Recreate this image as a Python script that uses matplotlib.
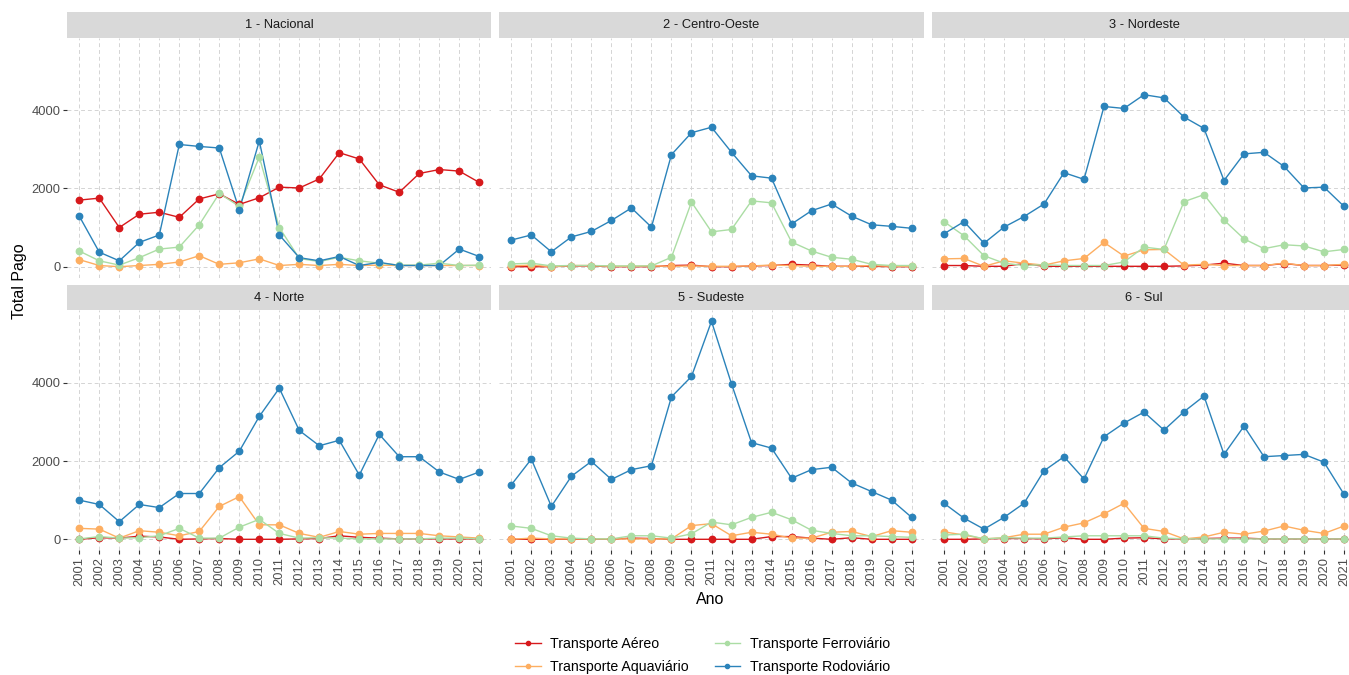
import matplotlib
matplotlib.use("Agg")

import matplotlib.pyplot as plt
from matplotlib.lines import Line2D

plt.rcParams['font.family'] = ['Liberation Sans', 'DejaVu Sans']

# Valores pagos por ano, modal e região
ANOS = [str(a) for a in range(2001, 2022)]
REGIOES = ['1 - Nacional', '2 - Centro-Oeste', '3 - Nordeste',
           '4 - Norte', '5 - Sudeste', '6 - Sul']
MODAIS = ['Transporte Aéreo', 'Transporte Aquaviário',
          'Transporte Ferroviário', 'Transporte Rodoviário']
CORES = ['#D7191C', '#FDAE61', '#ABDDA4', '#2B83BA']

# uma linha por região, na ordem de REGIOES
aereo = [
  [1700, 1750, 1000, 1340, 1390, 1260, 1730, 1860, 1590, 1760, 2030,
   2010, 2240, 2910, 2750, 2090, 1900, 2380, 2480, 2440, 2150],
  [0, 0, 0, 20, 20, 0, 0, 0, 30, 40, 0, 0, 20, 30, 60, 40, 10, 10, 10, 0, 0],
  [30, 30, 10, 10, 80, 10, 10, 10, 10, 10, 10, 10, 20, 40, 90, 30, 30, 80,
   30, 30, 40],
  [0, 40, 30, 80, 60, 0, 10, 20, 0, 0, 0, 10, 20, 90, 50, 30, 10, 10, 10,
   10, 10],
  [0, 0, 0, 0, 0, 0, 30, 20, 0, 0, 0, 0, 0, 70, 70, 30, 0, 40, 0, 0, 0],
  [0, 0, 10, 20, 20, 10, 40, 0, 0, 30, 40, 10, 10, 20, 30, 30, 10, 10, 10,
   10, 10],
]
aquaviario = [
  [180, 30, 0, 30, 60, 120, 280, 60, 100, 200, 30, 60, 30, 60, 30, 40, 30,
   30, 30, 30, 30],
  [20, 40, 0, 30, 30, 10, 10, 20, 10, 20, 10, 10, 20, 40, 30, 10, 10, 10,
   30, 10, 10],
  [200, 210, 10, 150, 90, 40, 150, 210, 620, 270, 430, 440, 40, 60, 30, 30,
   30, 90, 30, 30, 60],
  [280, 260, 30, 220, 180, 90, 200, 840, 1090, 370, 370, 150, 50, 200, 130,
   150, 150, 150, 90, 60, 30],
  [0, 30, 10, 10, 10, 10, 10, 10, 10, 350, 400, 90, 180, 130, 30, 30, 180,
   200, 70, 220, 180],
  [190, 110, 10, 40, 130, 130, 310, 420, 650, 920, 280, 200, 10, 60, 180,
   130, 210, 340, 230, 150, 340],
]
ferroviario = [
  [400, 150, 40, 230, 450, 500, 1070, 1870, 1540, 2800, 1000, 210, 130, 240,
   150, 90, 40, 40, 90, 30, 40],
  [70, 90, 20, 30, 30, 20, 20, 20, 240, 1650, 890, 950, 1680, 1630, 630, 400,
   240, 190, 60, 30, 30],
  [1150, 790, 280, 90, 30, 50, 30, 30, 30, 120, 500, 440, 1660, 1840, 1190,
   710, 460, 560, 530, 380, 440],
  [10, 70, 30, 40, 90, 280, 30, 30, 310, 510, 150, 30, 40, 30, 10, 10, 10,
   10, 30, 30, 10],
  [340, 280, 90, 30, 10, 10, 90, 90, 30, 140, 440, 370, 560, 690, 500, 230,
   150, 90, 90, 70, 50],
  [110, 130, 10, 40, 30, 30, 60, 90, 90, 90, 90, 30, 10, 10, 10, 10, 10, 10,
   10, 10, 10],
]
rodoviario = [
  [1290, 370, 150, 620, 810, 3120, 3070, 3030, 1450, 3210, 810, 230, 150,
   260, 30, 110, 30, 30, 30, 450, 260],
  [680, 810, 380, 760, 900, 1180, 1500, 1010, 2860, 3420, 3560, 2920, 2320,
   2260, 1090, 1430, 1600, 1290, 1070, 1030, 980],
  [840, 1150, 600, 1010, 1280, 1600, 2400, 2230, 4090, 4040, 4390, 4310,
   3820, 3530, 2200, 2880, 2920, 2560, 2010, 2030, 1540],
  [1000, 890, 450, 890, 810, 1170, 1170, 1830, 2250, 3140, 3860, 2780, 2390,
   2530, 1640, 2680, 2110, 2110, 1720, 1530, 1720],
  [1390, 2050, 840, 1610, 1990, 1530, 1780, 1880, 3640, 4160, 5570, 3970,
   2470, 2330, 1560, 1780, 1840, 1440, 1220, 1000, 560],
  [920, 540, 260, 560, 920, 1750, 2110, 1540, 2620, 2970, 3250, 2790, 3260,
   3660, 2170, 2890, 2110, 2140, 2170, 1970, 1150],
]

W, H = 1349, 675
COLS = [(67.3, 491.3), (499.3, 923.7), (932.0, 1356.0)]
ROWS = [(37.6, 277.6), (310.4, 550.2)]
STRIP_H = 25.5
GRID = '#D4D4D4'
TXT = '#4D4D4D'


def px_axes(fig, x0, y0, x1, y1):
  """Axes placed in pixel coordinates (origin top left)."""
  return fig.add_axes([x0 / W, 1 - y1 / H, (x1 - x0) / W, (y1 - y0) / H])


fig = plt.figure(figsize=(W / 100., H / 100.), dpi=100)
fig.patch.set_facecolor('white')

series = [aereo, aquaviario, ferroviario, rodoviario]
x = list(range(len(ANOS)))
ymax = max(max(r) for s in series for r in s)
pad = 0.05 * ymax

for i, regiao in enumerate(REGIOES):
  row, col = divmod(i, 3)
  x0, x1 = COLS[col]
  y0, y1 = ROWS[row]

  strip = px_axes(fig, x0, y0 - STRIP_H, x1, y0)
  strip.set_facecolor('#D9D9D9')
  strip.set_xticks([])
  strip.set_yticks([])
  for sp in strip.spines.values():
    sp.set_visible(False)
  strip.text(0.5, 0.5, regiao, transform=strip.transAxes, ha='center',
             va='center', fontsize=9.3, color='#1A1A1A')

  ax = px_axes(fig, x0, y0, x1, y1)
  for serie, cor in zip(series, CORES):
    ax.plot(x, serie[i], color=cor, linewidth=1.0, zorder=2)
  for serie, cor in zip(series, CORES):
    ax.plot(x, serie[i], linestyle='none', marker='o', markersize=4.6,
            markerfacecolor=cor, markeredgecolor=cor, zorder=3)

  ax.set_xlim(-0.6, len(ANOS) - 0.4)
  ax.set_ylim(-pad, ymax + pad)
  ax.set_xticks(x)
  ax.set_yticks([0, 2000, 4000])
  ax.set_axisbelow(True)
  ax.grid(True, color=GRID, linestyle=(0, (4, 3)), linewidth=0.7)
  for sp in ax.spines.values():
    sp.set_visible(False)
  ax.tick_params(axis='both', colors='#333333', labelcolor=TXT,
                 labelsize=9.3, length=2.9, width=0.8, pad=1.8)
  if row == 1:
    ax.set_xticklabels(ANOS, rotation=90)
  else:
    ax.tick_params(axis='x', length=0, labelbottom=False)
  if col != 0:
    ax.tick_params(axis='y', length=0, labelleft=False)

fig.text(20 / W, 1 - 281 / H, 'Total Pago', rotation=90, ha='center',
         va='center', fontsize=11.5, color='black')
fig.text(710 / W, 1 - 600 / H, 'Ano', ha='center', va='center',
         fontsize=11.5, color='black')

handles = [Line2D([], [], color=c, linewidth=1.0, marker='o', markersize=3.0)
           for c in CORES]
fig.legend(handles, MODAIS, ncol=2, loc='upper left',
           bbox_to_anchor=(515 / W, 1 - 637 / H), frameon=False,
           fontsize=10.2, borderpad=0, borderaxespad=0, handlelength=1.8,
           handletextpad=0.7, columnspacing=1.8, labelspacing=0.62,
           labelcolor='black')

fig.savefig('out.png', dpi=100)
